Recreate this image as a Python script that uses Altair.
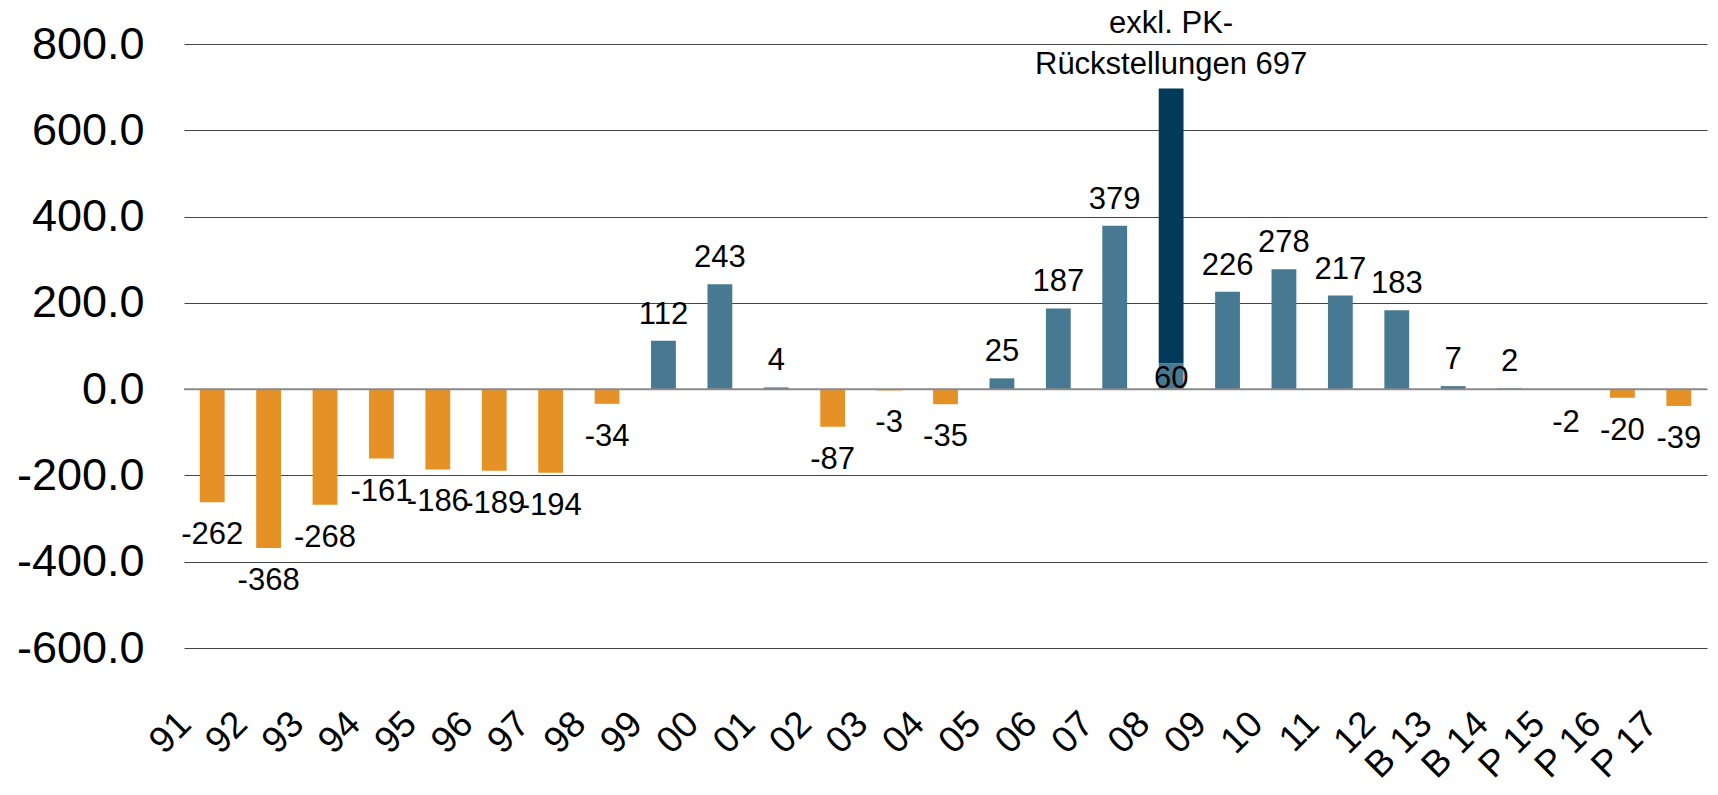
import altair as alt
import pandas as pd

categories = ["91", "92", "93", "94", "95", "96", "97", "98", "99", "00",
              "01", "02", "03", "04", "05", "06", "07", "08", "09", "10",
              "11", "12", "B 13", "B 14", "P 15", "P 16", "P 17"]
values = [-262, -368, -268, -161, -186, -189, -194, -34, 112, 243,
          4, -87, -3, -35, 25, 187, 379, 697, 226, 278,
          217, 183, 7, 2, -2, -20, -39]
pk_category = "08"
pk_base = 60
pk_note = ["exkl. PK-", "Rückstellungen 697"]
y_ticks = [-600, -400, -200, 0, 200, 400, 600, 800]

FONT = "Liberation Sans"

bar_rows = []
for c, v in zip(categories, values):
    if c == pk_category:
        bar_rows.append(dict(cat=c, y0=0, y1=pk_base, grp="pos"))
        bar_rows.append(dict(cat=c, y0=pk_base, y1=v, grp="pk"))
    else:
        bar_rows.append(dict(cat=c, y0=0, y1=v, grp="pos" if v >= 0 else "neg"))
bars_df = pd.DataFrame(bar_rows)

lab_df = pd.DataFrame({"cat": categories, "v": values, "t": [str(v) for v in values]})
pos_df = lab_df[(lab_df.v >= 0) & (lab_df.cat != pk_category)]
neg_df = lab_df[lab_df.v < 0]
base_df = pd.DataFrame({"cat": [pk_category], "v": [0], "t": [str(pk_base)]})
note_df = pd.DataFrame({"cat": [pk_category], "v": [values[categories.index(pk_category)]],
                        "t": [pk_note]})

x_enc = alt.X("cat:N", sort=categories,
              scale=alt.Scale(paddingInner=0.56, paddingOuter=0.28),
              axis=alt.Axis(title=None, labelAngle=-45, labelAlign="right",
                            labelBaseline="middle", labelOffset=-27, labelPadding=70,
                            labelFontSize=37, labelFont=FONT, labelColor="black",
                            ticks=False, domain=False, grid=False,
                            labelOverlap=False, labelLimit=400))
y_scale = alt.Scale(domain=[-600, 800], nice=False)

bars = alt.Chart(bars_df).mark_bar().encode(
    x=x_enc,
    y=alt.Y("y0:Q", scale=y_scale,
            axis=alt.Axis(title=None, values=y_ticks,
                          labelExpr="(datum.value < 0 ? '-' : '') + format(abs(datum.value), '.1f')",
                          labelFontSize=45, labelFont=FONT, labelColor="black",
                          labelPadding=40, ticks=False, domain=False,
                          grid=True, gridColor="#444444", gridWidth=1)),
    y2="y1:Q",
    color=alt.Color("grp:N", scale=alt.Scale(domain=["neg", "pos", "pk"],
                                             range=["#E69125", "#477A92", "#023A59"]),
                    legend=None),
)

zero = alt.Chart(pd.DataFrame({"z": [0]})).mark_rule(color="#8a8a8a", strokeWidth=2).encode(
    y=alt.Y("z:Q", scale=y_scale))

text_common = dict(font=FONT, fontSize=31, color="black", baseline="alphabetic")

pos_t = alt.Chart(pos_df).mark_text(dy=-17, **text_common).encode(
    x=alt.X("cat:N", sort=categories), y=alt.Y("v:Q", scale=y_scale), text="t:N")
neg_t = alt.Chart(neg_df).mark_text(dy=42, **text_common).encode(
    x=alt.X("cat:N", sort=categories), y=alt.Y("v:Q", scale=y_scale), text="t:N")
base_t = alt.Chart(base_df).mark_text(dy=-1, **text_common).encode(
    x=alt.X("cat:N", sort=categories), y=alt.Y("v:Q", scale=y_scale), text="t:N")
note_t = alt.Chart(note_df).mark_text(dy=-55, lineHeight=41, **text_common).encode(
    x=alt.X("cat:N", sort=categories), y=alt.Y("v:Q", scale=y_scale), text="t")

chart = alt.layer(bars, zero, pos_t, neg_t, base_t, note_t).properties(
    width=1523, height=604,
    autosize=alt.AutoSizeParams(type="none"),
    padding={"left": 176, "top": 36, "right": 3, "bottom": 147},
).configure_view(stroke=None)

chart.save("out.html", embed_options={"renderer": "svg", "actions": False})
